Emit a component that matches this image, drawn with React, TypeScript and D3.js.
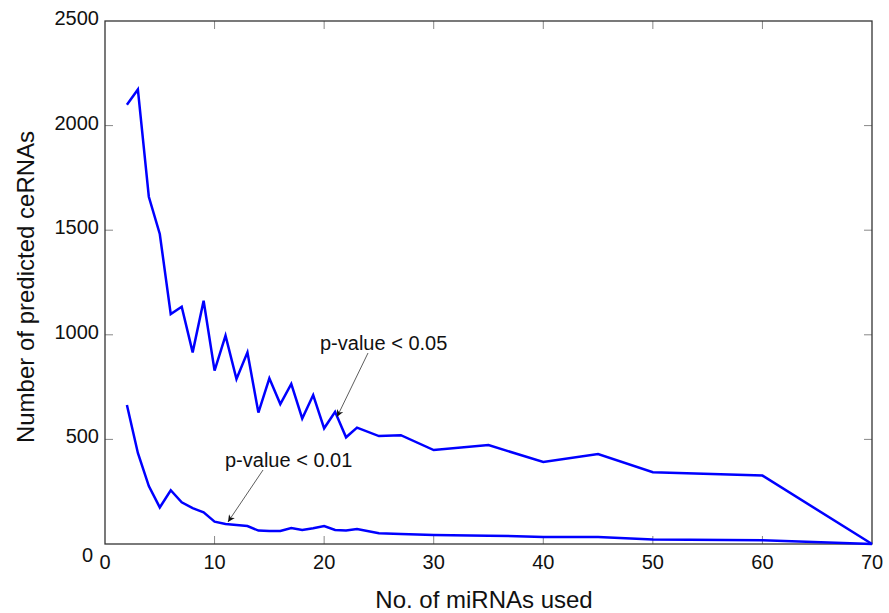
import React, { useEffect, useRef } from "react";
import * as d3 from "d3";

// number of miRNAs used (x)
const mirnaCounts = [
  2, 3, 4, 5, 6, 7, 8, 9, 10, 11, 12, 13, 14, 15, 16, 17, 18, 19, 20, 21, 22, 23,
  25, 27, 30, 35, 40, 45, 50, 60, 70,
];

// p-value < 0.05
const ceRNAs05 = [
  2100, 2173, 1660, 1482, 1099, 1134, 916, 1163, 829, 996, 789, 916, 628, 792, 669, 765,
  600, 712, 553, 632, 510, 556, 516, 520, 449, 473, 392, 430, 343, 327, 0,
];

// p-value < 0.01
const ceRNAs01 = [
  664, 435, 277, 175, 257, 199, 171, 151, 107, 96, 91, 86, 64, 62, 62, 76, 67, 75, 86, 67,
  65, 72, 51, 48, 43, 40, 34, 34, 22, 18, 0,
];

const xTicks = [0, 10, 20, 30, 40, 50, 60, 70];
const yTicks = [0, 500, 1000, 1500, 2000, 2500];

const FONT = "'Liberation Sans', Arial, Helvetica, sans-serif";

const App = () => {
  const svgRef = useRef<SVGSVGElement | null>(null);

  useEffect(() => {
    const W = 889;
    const H = 613;
    const margin = { top: 21, right: 17, bottom: 69, left: 105 };
    const width = W - margin.left - margin.right;
    const height = H - margin.top - margin.bottom;

    let svg = d3.select(svgRef.current);
    svg.selectAll("*").remove();
    svg.attr("width", W).attr("height", H);

    const defs = svg.append("defs");
    defs
      .append("marker")
      .attr("id", "arrowhead")
      .attr("viewBox", "0 0 10 10")
      .attr("refX", 10)
      .attr("refY", 5)
      .attr("markerWidth", 9)
      .attr("markerHeight", 7)
      .attr("markerUnits", "userSpaceOnUse")
      .attr("orient", "auto")
      .append("path")
      .attr("d", "M0,0 L10,5 L0,10 L3,5 Z")
      .attr("fill", "#111");

    const g = svg.append("g").attr("transform", `translate(${margin.left}, ${margin.top})`);

    const x = d3.scaleLinear().domain([0, 70]).range([0, width]);
    const y = d3.scaleLinear().domain([0, 2500]).range([height, 0]);

    // ticks pointing inward on all four sides
    const tickLen = 8;
    const tickColor = "#888";
    const tg = g.append("g");
    xTicks.forEach((t) => {
      if (t === 0 || t === 70) return;
      tg.append("line").attr("x1", x(t)).attr("x2", x(t)).attr("y1", height).attr("y2", height - tickLen).attr("stroke", tickColor);
      tg.append("line").attr("x1", x(t)).attr("x2", x(t)).attr("y1", 0).attr("y2", tickLen).attr("stroke", tickColor);
    });
    yTicks.forEach((t) => {
      if (t === 0 || t === 2500) return;
      tg.append("line").attr("x1", 0).attr("x2", tickLen).attr("y1", y(t)).attr("y2", y(t)).attr("stroke", tickColor);
      tg.append("line").attr("x1", width).attr("x2", width - tickLen).attr("y1", y(t)).attr("y2", y(t)).attr("stroke", tickColor);
    });

    // box
    g.append("rect")
      .attr("x", 0)
      .attr("y", 0)
      .attr("width", width)
      .attr("height", height)
      .attr("fill", "none")
      .attr("stroke", "#333")
      .attr("stroke-width", 1.3);

    // tick labels
    g.selectAll(".xlab")
      .data(xTicks)
      .enter()
      .append("text")
      .attr("class", "xlab")
      .attr("x", (d) => x(d))
      .attr("y", height + 25)
      .attr("text-anchor", "middle")
      .style("font-family", FONT)
      .style("font-size", "20px")
      .style("fill", "#111")
      .text((d) => d);

    g.selectAll(".ylab")
      .data(yTicks)
      .enter()
      .append("text")
      .attr("class", "ylab")
      .attr("x", (d) => (d === 0 ? -12 : -6))
      .attr("y", (d) => y(d) + (d === 0 ? 18 : 4))
      .attr("text-anchor", "end")
      .style("font-family", FONT)
      .style("font-size", "20px")
      .style("fill", "#111")
      .text((d) => d);

    // lines
    const line = d3
      .line<number>()
      .x((d, i) => x(mirnaCounts[i]))
      .y((d) => y(d));

    [ceRNAs05, ceRNAs01].forEach((s) => {
      g.append("path")
        .datum(s)
        .attr("d", line)
        .attr("fill", "none")
        .attr("stroke", "#0000ff")
        .attr("stroke-width", 2.5)
        .attr("stroke-linejoin", "miter");
    });

    // annotations
    const notes = [
      { label: "p-value < 0.05", tx: 320, ty: 350, x1: 368, y1: 353, at: 21, dx: 2, dy: 5, series: ceRNAs05 },
      { label: "p-value < 0.01", tx: 225, ty: 467, x1: 263, y1: 470, at: 11, dx: 2.5, dy: -2, series: ceRNAs01 },
    ];
    notes.forEach((n) => {
      const idx = mirnaCounts.indexOf(n.at);
      const px = margin.left + x(n.at) + n.dx;
      const py = margin.top + y(n.series[idx]) + n.dy;
      svg
        .append("line")
        .attr("x1", n.x1)
        .attr("y1", n.y1)
        .attr("x2", px)
        .attr("y2", py)
        .attr("stroke", "#333")
        .attr("stroke-width", 0.8)
        .attr("marker-end", "url(#arrowhead)");
      svg
        .append("text")
        .attr("x", n.tx)
        .attr("y", n.ty)
        .style("font-family", FONT)
        .style("font-size", "20px")
        .style("fill", "#111")
        .text(n.label);
    });

    // axis titles
    svg
      .append("text")
      .attr("x", 484)
      .attr("y", 608)
      .attr("text-anchor", "middle")
      .style("font-family", FONT)
      .style("font-size", "24px")
      .style("fill", "#111")
      .text("No. of miRNAs used");

    svg
      .append("text")
      .attr("transform", `translate(34, 287) rotate(-90)`)
      .attr("text-anchor", "middle")
      .style("font-family", FONT)
      .style("font-size", "24px")
      .style("fill", "#111")
      .text("Number of predicted ceRNAs");
  }, []);

  return (
    <div style={{ position: "absolute", left: 0, top: 0, background: "#fff" }}>
      <svg ref={svgRef}></svg>
    </div>
  );
};

export default App;
